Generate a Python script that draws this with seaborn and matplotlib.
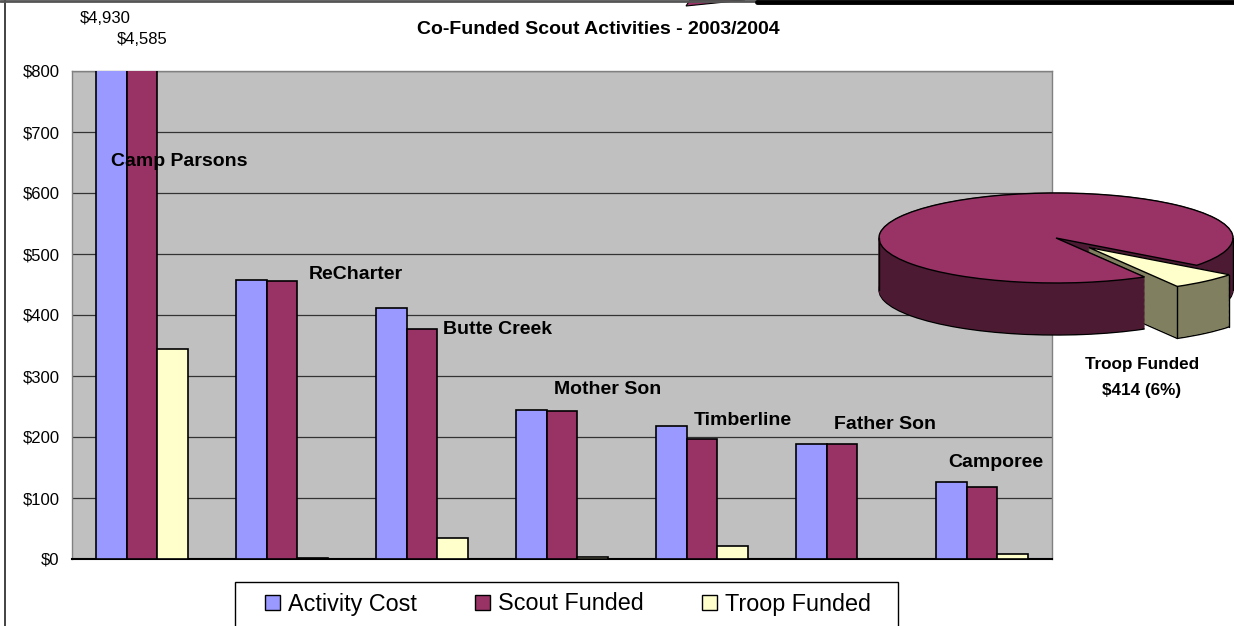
import numpy as np
import pandas as pd
import matplotlib.pyplot as plt
import seaborn as sns
from matplotlib.lines import Line2D
from matplotlib.patches import Patch, Polygon, Rectangle

# data
categories = ["Camp Parsons", "ReCharter", "Butte Creek", "Mother Son",
              "Timberline", "Father Son", "Camporee"]
series = ["Activity Cost", "Scout Funded", "Troop Funded"]
activity_cost = [4930, 458, 411, 245, 218, 188, 126]
scout_funded = [4585, 456, 377, 242, 196, 188, 118]
troop_funded = [345, 2, 34, 3, 22, 0, 8]
y_ticks = [0, 100, 200, 300, 400, 500, 600, 700, 800]

# label placement (data coords, left edge of text)
label_pos = [(-0.22, 652), (1.19, 466), (2.15, 377), (2.94, 278),
             (3.94, 227), (4.94, 220), (5.76, 158)]

colors = ["#9999FF", "#993366", "#FFFFCC"]
pie_top = ["#FFFFCC", "#993366"]
pie_side = ["#808060", "#4C1A33"]

W, H = 1234, 626


def fx(px):
    return px / W


def fy(py):
    return 1 - py / H


sns.set_theme(style="white")
plt.rcParams["font.family"] = ["Liberation Sans", "DejaVu Sans"]
plt.rcParams["text.color"] = "black"

fig = plt.figure(figsize=(W / 100, H / 100), dpi=100)
ax = fig.add_axes([fx(72), fy(559), fx(1052) - fx(72), fy(71) - fy(559)])

df = pd.DataFrame({
    "activity": categories * 3,
    "series": np.repeat(series, len(categories)),
    "value": activity_cost + scout_funded + troop_funded,
})
sns.barplot(data=df, x="activity", y="value", hue="series", palette=colors,
            width=0.66, edgecolor="black", linewidth=1.2, saturation=1,
            errorbar=None, legend=False, ax=ax, zorder=3)

ax.set_facecolor("#C0C0C0")
ax.set_xlim(-0.5, len(categories) - 0.5)
ax.set_ylim(0, 800)
ax.set_yticks(y_ticks)
ax.set_yticklabels([f"${v:,}" for v in y_ticks])
ax.set_xticks([])
ax.set_xlabel("")
ax.set_ylabel("")
ax.yaxis.grid(True, color="#333333", lw=0.9)
ax.set_axisbelow(True)
ax.tick_params(axis="y", length=0, pad=9, labelsize=12, colors="black")
for side in ["left", "top", "right"]:
    ax.spines[side].set_color("#808080")
    ax.spines[side].set_linewidth(1)
ax.spines["bottom"].set_color("black")
ax.spines["bottom"].set_linewidth(1.5)

# values of the clipped bars
ax.text(-0.26, 886, f"${activity_cost[0]:,}", ha="center", va="center",
        fontsize=12, clip_on=False)
ax.text(0.0, 851, f"${scout_funded[0]:,}", ha="center", va="center",
        fontsize=12, clip_on=False)

for name, (x, y) in zip(categories, label_pos):
    ax.text(x, y, name, ha="left", va="center", fontsize=14,
            fontweight="bold", zorder=5)

fig.text(fx(598), fy(30), "Co-Funded Scout Activities - 2003/2004",
         ha="center", va="center", fontsize=14, fontweight="bold")

# legend
handles = [Patch(facecolor=c, edgecolor="black", lw=1) for c in colors]
fig.legend(handles, series, loc="center", bbox_to_anchor=(fx(568), fy(604)),
           ncol=3, frameon=False, fontsize=16.8, handlelength=0.64,
           handleheight=0.64, handletextpad=0.34, columnspacing=2.5,
           borderpad=0, borderaxespad=0)
fig.add_artist(Rectangle((fx(235), fy(632)), fx(898) - fx(235),
                         fy(582) - fy(632), transform=fig.transFigure,
                         facecolor="none", edgecolor="black", lw=1))

# 3d-looking pie of the totals
troop_total = sum(troop_funded)
scout_total = sum(scout_funded)
pie_vals = [troop_total, scout_total]
pct = troop_total / sum(activity_cost)
start = -60
explode = 0.28

cx, cy, rx, ry = 1056, 238, 177, 45
depth = 52 / ry
pax = fig.add_axes([fx(cx - 186), fy(cy + 125), fx(372), fy(0) - fy(230)])
layers = np.linspace(-depth, 0, 45)
for i, k in enumerate(layers):
    wedges, _ = pax.pie(pie_vals, colors=pie_side, explode=[explode, 0],
                        startangle=start, center=(0, k),
                        wedgeprops=dict(lw=1))
    for w in wedges:
        if i == 0:
            w.set_edgecolor("black")
        else:
            w.set_edgecolor(w.get_facecolor())
            w.set_linewidth(0.6)
pax.pie(pie_vals, colors=pie_top, explode=[explode, 0], startangle=start,
        center=(0, 0), wedgeprops=dict(edgecolor="black", lw=1))

# vertical edges of the walls
span = 360 * pie_vals[0] / sum(pie_vals)
mid = np.deg2rad(start + span / 2)
ox, oy = explode * np.cos(mid), explode * np.sin(mid)
for a in [start, start + span]:
    px_, py_ = ox + np.cos(np.deg2rad(a)), oy + np.sin(np.deg2rad(a))
    pax.plot([px_, px_], [py_ - depth, py_], color="black", lw=1)
for sx in [-1, 1]:
    pax.plot([sx, sx], [-depth, 0], color="black", lw=1)

pax.set_aspect("auto")
pax.set_xlim(-186 / rx, 186 / rx)
pax.set_ylim(-125 / ry, 105 / ry)
pax.axis("off")

fig.text(fx(1142), fy(365), "Troop Funded", ha="center", va="center",
         fontsize=12.3, fontweight="bold")
fig.text(fx(1142), fy(390), f"${troop_total:,} ({pct:.0%})", ha="center",
         va="center", fontsize=12.3, fontweight="bold")

# slide frame bits
fig.add_artist(Line2D([fx(5), fx(5)], [0, 1], color="#222222", lw=1.2))
fig.add_artist(Line2D([0, fx(757)], [fy(1), fy(1)], color="#555555", lw=2))
fig.add_artist(Line2D([fx(757), 1], [fy(1.5), fy(1.5)], color="black", lw=3.5))
fig.add_artist(Polygon([(fx(686), fy(6)), (fx(690), fy(0)), (fx(745), fy(0))],
                       closed=True, transform=fig.transFigure,
                       facecolor="#993366", edgecolor="black", lw=0.8))

fig.savefig("out.png", dpi=100)
